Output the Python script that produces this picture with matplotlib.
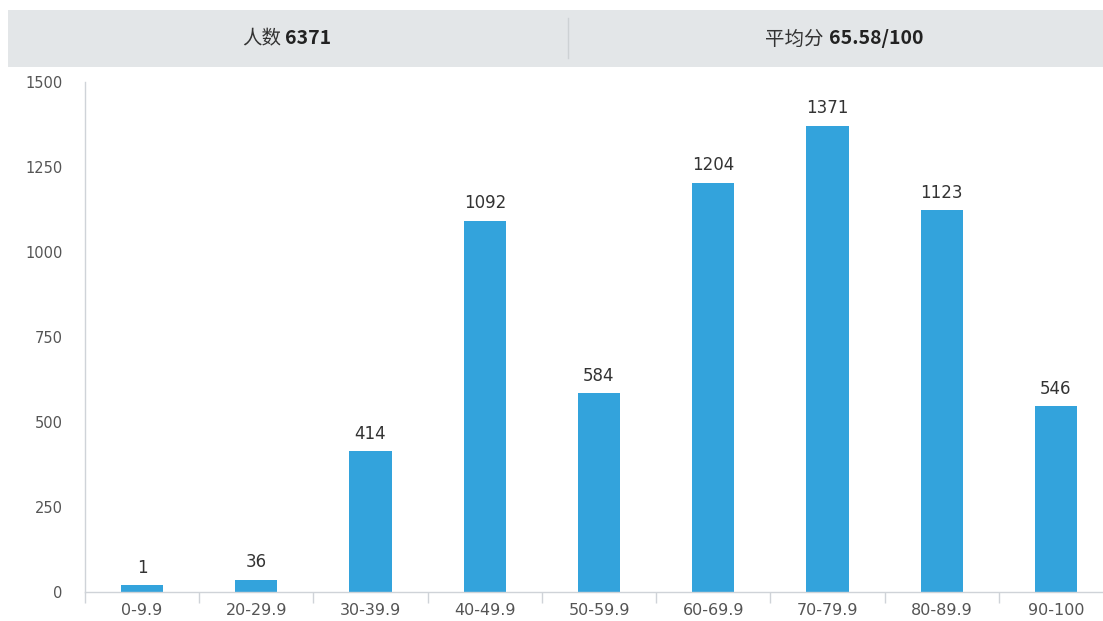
import matplotlib
matplotlib.use("Agg")
import matplotlib.pyplot as plt
from matplotlib.patches import Rectangle
from matplotlib.lines import Line2D

# ── Data ───────────────────────────────────────────────────────────────────────
categories = ["0-9.9", "20-29.9", "30-39.9", "40-49.9", "50-59.9",
              "60-69.9", "70-79.9", "80-89.9", "90-100"]
counts = [1, 36, 414, 1092, 584, 1204, 1371, 1123, 546]
total_label = "6371"
mean_label = "65.58/100"
y_ticks = [0, 250, 500, 750, 1000, 1250, 1500]

# ── Style ──────────────────────────────────────────────────────────────────────
BAR     = "#33a3dc"
HEADER  = "#e3e6e8"
DIVIDER = "#cdd1d4"
AXIS    = "#cfd3d8"
TICKTXT = "#555555"
VALTXT  = "#333333"
MIN_BAR = 20          # minimum drawn bar height (data units) so tiny bars stay visible

W, H = 1103, 621
fig = plt.figure(figsize=(W / 100, H / 100), dpi=100)
fig.patch.set_facecolor("white")

def fx(px):
    return px / W

def fy(py):
    return 1 - py / H

# ── Header band ────────────────────────────────────────────────────────────────
fig.patches.append(Rectangle((fx(8), fy(67)), fx(W - 8), fy(10) - fy(67),
                             transform=fig.transFigure, facecolor=HEADER,
                             edgecolor="none", zorder=0))
fig.lines.append(Line2D([fx(568), fx(568)], [fy(18), fy(58)],
                        transform=fig.transFigure, color=DIVIDER, lw=1))

cjk = ["Noto Sans CJK SC", "DejaVu Sans"]
fig.text(fx(281), fy(39), "人数", ha="right", va="center", fontsize=14,
         family=cjk, color="#333333")
fig.text(fx(285), fy(39), total_label, ha="left", va="center", fontsize=14,
         family=cjk, fontweight="bold", color="#222222")
fig.text(fx(823), fy(39), "平均分", ha="right", va="center", fontsize=14,
         family=cjk, color="#333333")
fig.text(fx(829), fy(39), mean_label, ha="left", va="center", fontsize=14,
         family=cjk, fontweight="bold", color="#222222")

# ── Chart ──────────────────────────────────────────────────────────────────────
left, right = 85, 1113
top, bottom = 82, 592
ax = fig.add_axes([fx(left), fy(bottom), fx(right - left), fy(top) - fy(bottom)])

x = list(range(len(categories)))
heights = [max(v, MIN_BAR) for v in counts]
bars = ax.bar(x, heights, width=0.37, color=BAR, zorder=2)

for rect, v in zip(bars, counts):
    ax.annotate(str(v), (rect.get_x() + rect.get_width() / 2, rect.get_height()),
                xytext=(0, 9), textcoords="offset points", ha="center",
                va="baseline", fontsize=12, color=VALTXT)

ax.set_xlim(-0.5, len(categories) - 0.5)
ax.set_ylim(0, 1500)

for s in ["top", "right"]:
    ax.spines[s].set_visible(False)
ax.spines["left"].set_color(AXIS)
ax.spines["bottom"].set_color(AXIS)
ax.spines["left"].set_linewidth(1)
ax.spines["bottom"].set_linewidth(1)

ax.set_yticks(y_ticks)
ax.set_yticklabels([str(t) for t in y_ticks])
ax.tick_params(axis="y", length=0, pad=16, labelsize=10.5, labelcolor=TICKTXT)

# boundary ticks (marks only) and centred labels
ax.set_xticks([i - 0.5 for i in range(len(categories) + 1)])
ax.set_xticklabels([])
ax.set_xticks(x, minor=True)
ax.set_xticklabels(categories, minor=True)
ax.tick_params(axis="x", which="major", length=8, width=1, color=AXIS)
ax.tick_params(axis="x", which="minor", length=0, pad=8, labelsize=11.5,
               labelcolor=TICKTXT)

fig.savefig("out.png", dpi=100, facecolor="white")
